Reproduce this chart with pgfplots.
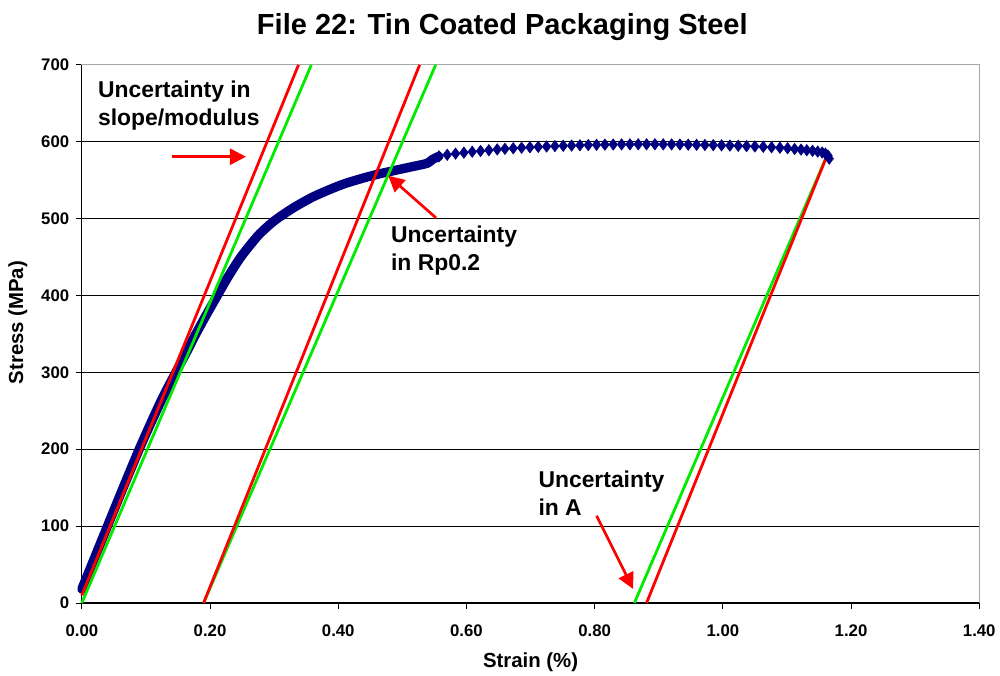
\documentclass[border=0pt]{standalone}
\usepackage{pgfplots}
\pgfplotsset{compat=1.18}
\usepackage{pgfplotstable}
\usetikzlibrary{arrows.meta}
\usepackage{fontspec}
\setmainfont{Liberation Sans}

\definecolor{curveblue}{RGB}{0,0,128}
\definecolor{fitred}{RGB}{255,0,0}
\definecolor{fitgreen}{RGB}{0,235,0}

% rising (elastic-plastic) part of the tensile curve: dense, drawn as a band
\pgfplotstableread{
strain stress
0.000 18
0.020 59
0.040 100
0.064 149
0.089 199
0.106 231
0.126 267
0.146 299
0.162 324
0.176 347
0.193 373
0.210 398
0.228 424
0.248 450
0.275 478
0.300 497
0.330 514
0.360 528
0.390 539
0.412 546
0.440 553
0.463 558
0.490 563
0.515 567.5
0.539 572
0.547 577
0.557 581
}\rising

% plateau part of the tensile curve: individual diamond points
\pgfplotstableread{
strain stress
0.557 581
0.570 583
0.583 584.5
0.596 585.8
0.609 587
0.622 588
0.635 589
0.648 590
0.660 590.8
0.673 591.5
0.686 592.2
0.699 592.8
0.712 593.3
0.725 593.8
0.738 594.3
0.751 594.7
0.764 595
0.777 595.4
0.790 595.7
0.803 596
0.816 596.2
0.829 596.4
0.842 596.5
0.855 596.6
0.868 596.7
0.881 596.7
0.894 596.7
0.907 596.6
0.920 596.5
0.933 596.4
0.946 596.2
0.959 596
0.972 595.8
0.985 595.6
0.998 595.3
1.011 595
1.024 594.7
1.037 594.3
1.050 593.9
1.063 593.4
1.076 592.8
1.089 592.2
1.101 591.5
1.112 590.6
1.122 589.8
1.131 589
1.140 588.2
1.148 587.2
1.155 586
1.160 584.5
1.164 582
1.166 578
}\plateau

\begin{document}
\begin{tikzpicture}
\begin{axis}[
  scale only axis,
  width=674.25pt, height=404.25pt,
  xmin=0, xmax=1.4, ymin=0, ymax=700,
  xtick={0,0.2,0.4,0.6,0.8,1.0,1.2,1.4},
  ytick={0,100,200,300,400,500,600,700},
  scaled ticks=false,
  tick pos=left,
  tick align=outside,
  major tick length=4.5pt,
  tick style={black, line width=0.6pt},
  ymajorgrids,
  grid style={black, line width=0.6pt},
  axis line style={draw=gray!70, line width=0.8pt},
  /pgf/number format/assume math mode=true,
  ticklabel style={font=\bfseries\fontsize{12.6}{14}\selectfont},
  x tick label style={yshift=-8.5pt, /pgf/number format/.cd, fixed, fixed zerofill, precision=2, /tikz/.cd},
  y tick label style={xshift=-1.5pt, /pgf/number format/.cd, fixed, precision=0, /tikz/.cd},
  xlabel={Strain (\%)},
  ylabel={Stress (MPa)},
  label style={font=\bfseries\fontsize{15.3}{17}\selectfont},
  xlabel style={at={(axis description cs:0.5,-0.1095)}, anchor=center},
  ylabel style={at={(axis description cs:-0.0712,0.521)}, anchor=center, rotate=0},
  clip=false,
]
% left and bottom axis lines in black, top and right stay grey
\draw[black, line width=0.8pt] (rel axis cs:0,1) -- (rel axis cs:0,0) -- (rel axis cs:1,0);
\draw[gray!70, line width=0.8pt] (rel axis cs:0,1) -- (rel axis cs:1,1) -- (rel axis cs:1,0);

% measured curve
\addplot[curveblue, line width=7pt, smooth, tension=0.4, line join=round, line cap=round, mark=none] table[x=strain, y=stress] {\rising};
\addplot[curveblue, only marks, mark=diamond*, mark size=4.3pt, mark options={fill=curveblue, draw=curveblue}] table[x=strain, y=stress] {\plateau};

% modulus lines
\addplot[fitgreen, line width=2.1pt, mark=none] coordinates {(0.000,0) (0.358,700)};
\addplot[fitred, line width=2.1pt, mark=none] coordinates {(0.000,10) (0.338,700)};
% proof-stress offset lines
\addplot[fitgreen, line width=2.1pt, mark=none] coordinates {(0.190,0) (0.552,700)};
\addplot[fitred, line width=2.1pt, mark=none] coordinates {(0.190,0) (0.527,700)};
% elongation unloading lines
\addplot[fitgreen, line width=2.1pt, mark=none] coordinates {(0.862,0) (1.163,583)};
\addplot[fitred, line width=2.1pt, mark=none] coordinates {(0.881,0) (1.163,583)};

% annotations
\begin{scope}[every node/.style={font=\bfseries\fontsize{17.2}{21}\selectfont, align=left, anchor=west, inner sep=0pt}]
\node at (axis cs:0.0249,646.8) {Uncertainty in\\slope/modulus};
\node at (axis cs:0.482,459) {Uncertainty\\in Rp0.2};
\node at (axis cs:0.712,142.9) {Uncertainty\\in A};
\end{scope}
\begin{scope}[fitred, line width=2pt, -{Triangle[length=12pt, width=12pt]}]
\draw (axis cs:0.140,580.5) -- (axis cs:0.256,580.5);
\draw (axis cs:0.5526,500.9) -- (axis cs:0.478,555.8);
\draw (axis cs:0.803,113.4) -- (axis cs:0.860,18.2);
\end{scope}

% title
\node[font=\bfseries\fontsize{21.8}{24}\selectfont] at (axis cs:0.656,749) {File 22: Tin Coated Packaging Steel};
\end{axis}
% picture frame
\path (current axis.south west) ++(-61.5pt,-54.75pt) coordinate (bbsw);
\path (current axis.north east) ++(14.25pt,48.75pt) coordinate (bbne);
\path[use as bounding box] (bbsw) rectangle (bbne);
\end{tikzpicture}
\end{document}
